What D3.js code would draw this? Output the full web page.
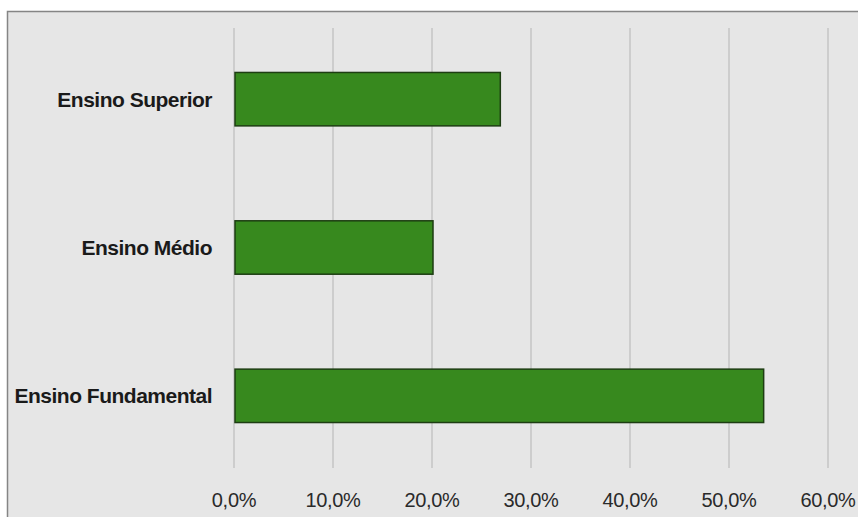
<!DOCTYPE html>
<html><head><meta charset="utf-8">
<script src="https://cdn.jsdelivr.net/npm/d3@7"></script>
<style>body{margin:0;background:#fff}svg{display:block}</style>
</head><body>
<svg id="c" width="858" height="517"></svg>
<script>
const categories = ["Ensino Superior", "Ensino Médio", "Ensino Fundamental"];
const values = [0.268, 0.20, 0.534];
const ticks = [0, 0.1, 0.2, 0.3, 0.4, 0.5, 0.6];

const svg = d3.select("#c");
svg.append("rect").attr("x", 7.5).attr("y", 11.5).attr("width", 860).attr("height", 520)
  .attr("fill", "#e6e6e6").attr("stroke", "#858585").attr("stroke-width", 1.5);

const x = d3.scaleLinear().domain([0, 0.6]).range([234, 828]);
const y = d3.scaleBand().domain(categories).range([25, 470]).paddingInner(0.64).paddingOuter(0.32);

const fmt = v => d3.format(".1f")(v * 100).replace(".", ",") + "%";

const g = svg.append("g");
g.selectAll("line.grid").data(ticks).join("line").attr("class", "grid")
  .attr("x1", d => x(d)).attr("x2", d => x(d)).attr("y1", 28).attr("y2", 468)
  .attr("stroke", "#c4c4c4").attr("stroke-width", 1.5);

g.selectAll("text.tick").data(ticks).join("text").attr("class", "tick")
  .attr("x", d => x(d)).attr("y", 507).attr("text-anchor", "middle")
  .attr("font-family", "Liberation Sans, Arial, sans-serif").attr("font-size", 20)
  .attr("letter-spacing", "-0.3px")
  .attr("fill", "#2a2a2a").text(fmt);

g.selectAll("rect.bar").data(values).join("rect").attr("class", "bar")
  .attr("x", x(0) + 1).attr("y", (d, i) => y(categories[i]))
  .attr("width", d => x(d) - x(0)).attr("height", y.bandwidth())
  .attr("fill", "#37891e").attr("stroke", "#1d3d12").attr("stroke-width", 1.5);

g.selectAll("text.cat").data(categories).join("text").attr("class", "cat")
  .attr("x", 212).attr("y", d => y(d) + y.bandwidth() / 2).attr("dy", "0.36em")
  .attr("text-anchor", "end")
  .attr("font-family", "Liberation Sans, Arial, sans-serif").attr("font-weight", "bold")
  .attr("font-size", 21).attr("letter-spacing", "-0.5px").attr("fill", "#1a1a1a").text(d => d);
</script>
</body></html>
